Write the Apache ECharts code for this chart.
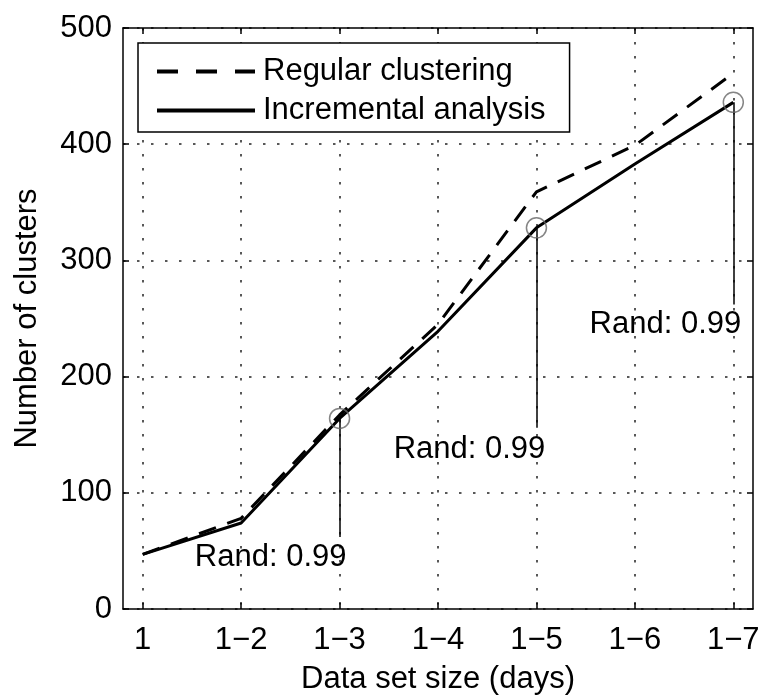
<!DOCTYPE html>
<html>
<head>
<meta charset="utf-8">
<script src="https://cdn.jsdelivr.net/npm/echarts@6/dist/echarts.min.js"></script>
<style>
  html, body { margin: 0; padding: 0; background: #fff; }
  #chart { width: 762px; height: 696px; }
</style>
</head>
<body>
<div id="chart"></div>
<script>
// Data set sizes (cumulative days) and their axis positions
const xLabels = ['1', '1−2', '1−3', '1−4', '1−5', '1−6', '1−7'];
const xPositions = [1, 2, 3, 4, 5, 6, 7];

// Number of clusters found by each method
const regularClustering = [47, 78, 167, 245, 359, 399, 461];
const incrementalAnalysis = [47, 74, 164, 239, 328, 383, 436];

// Y axis ticks
const yTicks = [0, 100, 200, 300, 400, 500];

// Rand index notes on the incremental curve
const randAt = [3, 5, 7];
const randValues = ['0.99', '0.99', '0.99'];
const randLeaderEnd = [62, 156, 262];
const randLabelPos = [[2.30, 44], [4.32, 137], [6.31, 245]];

const FONT = "'Liberation Sans', Arial, sans-serif";
const FS = 31;

const chart = echarts.init(document.getElementById('chart'), null, { renderer: 'canvas' });

const dotted = { color: '#222', width: 1.5, type: [2.5, 11.5] };
const frame = { show: true, onZero: false, lineStyle: { color: '#000', width: 1.5 } };

chart.setOption({
  animation: false,
  backgroundColor: '#fff',
  textStyle: { fontFamily: FONT },
  grid: { left: 123, right: 9, top: 28, bottom: 87, containLabel: false, outerBoundsMode: 'none' },
  legend: {
    orient: 'vertical',
    left: 138,
    top: 43,
    padding: [13, 24, 6, 17],
    borderColor: '#000',
    borderWidth: 1.5,
    backgroundColor: '#fff',
    itemWidth: 98,
    itemHeight: 28,
    itemGap: 8,
    textStyle: { fontSize: FS, color: '#000', fontFamily: FONT, padding: [0, 0, 0, 3] },
    data: [
      { name: 'Regular clustering', itemStyle: { opacity: 0 }, lineStyle: { type: [21, 18], width: 4, color: '#000' } },
      { name: 'Incremental analysis', itemStyle: { opacity: 0 }, lineStyle: { width: 4, color: '#000' } }
    ]
  },
  xAxis: [
    {
      type: 'value', min: 0.8, max: 7.2, position: 'bottom',
      axisLine: frame,
      axisTick: { show: true, inside: true, length: 6, customValues: xPositions, lineStyle: { color: '#000', width: 1.5 } },
      axisLabel: {
        customValues: xPositions, margin: 16, fontSize: FS, color: '#000', fontFamily: FONT,
        formatter: v => xLabels[xPositions.indexOf(Math.round(v))] || ''
      },
      splitLine: { show: true, lineStyle: dotted },
      name: 'Data set size (days)', nameLocation: 'middle', nameGap: 55,
      nameTextStyle: { fontSize: FS, color: '#000', fontFamily: FONT }
    },
    {
      type: 'value', min: 0.8, max: 7.2, position: 'top',
      axisLine: frame,
      axisTick: { show: true, inside: true, length: 6, customValues: xPositions, lineStyle: { color: '#000', width: 1.5 } },
      axisLabel: { show: false },
      splitLine: { show: false }
    }
  ],
  yAxis: [
    {
      type: 'value', min: yTicks[0], max: yTicks[yTicks.length - 1], interval: 100, position: 'left',
      axisLine: frame,
      axisTick: { show: true, inside: true, length: 6, lineStyle: { color: '#000', width: 1.5 } },
      axisLabel: { margin: 11, fontSize: FS, color: '#000', fontFamily: FONT },
      splitLine: { show: true, lineStyle: dotted },
      name: 'Number of clusters', nameLocation: 'middle', nameGap: 80, nameRotate: 90,
      nameTextStyle: { fontSize: FS, color: '#000', fontFamily: FONT }
    },
    {
      type: 'value', min: yTicks[0], max: yTicks[yTicks.length - 1], interval: 100, position: 'right',
      axisLine: frame,
      axisTick: { show: true, inside: true, length: 6, lineStyle: { color: '#000', width: 1.5 } },
      axisLabel: { show: false },
      splitLine: { show: false }
    }
  ],
  series: [
    {
      name: 'Regular clustering', type: 'line', symbol: 'none',
      data: xPositions.map((x, i) => [x, regularClustering[i]]),
      lineStyle: { color: '#000', width: 3, type: [18, 12] },
      itemStyle: { color: '#000' },
      z: 3
    },
    {
      name: 'Incremental analysis', type: 'line', symbol: 'none',
      data: xPositions.map((x, i) => [x, incrementalAnalysis[i]]),
      lineStyle: { color: '#000', width: 3 },
      itemStyle: { color: '#000' },
      z: 4
    },
    {
      name: 'rand-marks', type: 'scatter', symbol: 'circle', symbolSize: 20,
      data: randAt.map(x => [x, incrementalAnalysis[xPositions.indexOf(x)]]),
      itemStyle: { color: 'rgba(0,0,0,0)', borderColor: '#666', borderWidth: 1.5 },
      silent: true,
      z: 5,
      markLine: {
        silent: true,
        symbol: ['none', 'none'],
        label: { show: false },
        lineStyle: { color: '#000', width: 1.5, type: 'solid' },
        data: randAt.map((x, i) => [
          { coord: [x, incrementalAnalysis[xPositions.indexOf(x)]] },
          { coord: [x, randLeaderEnd[i]] }
        ])
      }
    },
    {
      // Rand index text placed at data coordinates
      name: 'rand-labels', type: 'custom', silent: true, z: 6,
      data: randLabelPos,
      renderItem: (params, api) => {
        const pt = api.coord([api.value(0), api.value(1)]);
        return {
          type: 'text',
          x: pt[0], y: pt[1],
          style: {
            text: 'Rand: ' + randValues[params.dataIndex],
            fill: '#000',
            font: FS + 'px ' + FONT,
            align: 'center',
            verticalAlign: 'middle'
          }
        };
      }
    }
  ]
});
</script>
</body>
</html>
